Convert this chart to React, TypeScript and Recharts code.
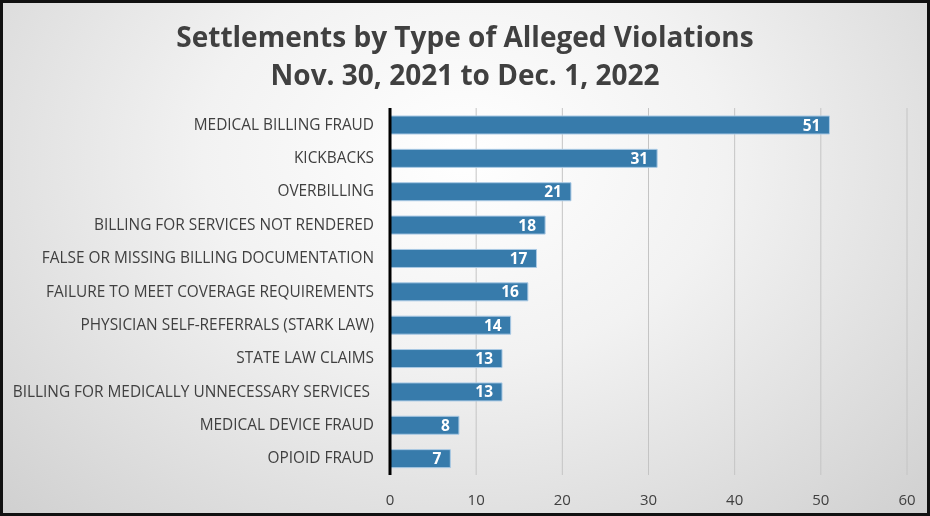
import { Bar, BarChart, CartesianGrid, LabelList, XAxis, YAxis } from 'recharts';

const categories = [
  'MEDICAL BILLING FRAUD',
  'KICKBACKS',
  'OVERBILLING',
  'BILLING FOR SERVICES NOT RENDERED',
  'FALSE OR MISSING BILLING DOCUMENTATION',
  'FAILURE TO MEET COVERAGE REQUIREMENTS',
  'PHYSICIAN SELF-REFERRALS (STARK LAW)',
  'STATE LAW CLAIMS',
  'BILLING FOR MEDICALLY UNNECESSARY SERVICES ',
  'MEDICAL DEVICE FRAUD',
  'OPIOID FRAUD',
];
const settlements = [51, 31, 21, 18, 17, 16, 14, 13, 13, 8, 7];
const xTicks = [0, 10, 20, 30, 40, 50, 60];

const data = categories.map((name, i) => ({ name, value: settlements[i] }));

const blue = '#377bab';
const textGray = '#404040';
const font = '"Open Sans", "Noto Sans", sans-serif';

// plain text tick so long names stay on one line
function CategoryTick(props: any) {
  const { x, y, payload } = props;
  return (
    <text x={x} y={y} dy={5} textAnchor="end" fill={textGray} fontSize={15.4} fontFamily={font} style={{ whiteSpace: 'pre' }}>
      {payload.value}
    </text>
  );
}

export default function App() {
  return (
    <div
      style={{
        position: 'fixed',
        left: 0,
        top: 0,
        width: 930,
        height: 516,
        boxSizing: 'border-box',
        border: '3px solid #111',
        background: 'radial-gradient(ellipse at 50% 30%, #ffffff 0%, #f2f2f2 40%, #d0d0d0 100%)',
        fontFamily: font,
        overflow: 'hidden',
      }}
    >
      <div
        style={{
          position: 'absolute',
          top: 14,
          left: 0,
          width: 924,
          textAlign: 'center',
          color: textGray,
          fontWeight: 700,
          fontSize: 28,
          lineHeight: '38px',
        }}
      >
        Settlements by Type of Alleged Violations
        <br />
        Nov. 30, 2021 to Dec. 1, 2022
      </div>
      <div style={{ position: 'absolute', left: -3, top: -3 }}>
        <BarChart
          width={930}
          height={516}
          data={data}
          layout="vertical"
          barSize={18}
          margin={{ top: 108, right: 23, bottom: 11, left: 0 }}
        >
          <CartesianGrid horizontal={false} stroke="#c4c4c4" strokeWidth={1} />
          <XAxis
            type="number"
            domain={[0, 60]}
            ticks={xTicks}
            height={30}
            axisLine={false}
            tickLine={false}
            tickSize={0}
            tickMargin={19}
            tick={{ fill: textGray, fontSize: 15, fontFamily: font }}
          />
          <YAxis
            type="category"
            dataKey="name"
            width={390}
            axisLine={{ stroke: '#000', strokeWidth: 3 }}
            tickLine={false}
            tickSize={0}
            tickMargin={16}
            interval={0}
            tick={<CategoryTick />}
          />
          <Bar dataKey="value" fill={blue} stroke="#a9c9e4" strokeWidth={1} isAnimationActive={false}>
            <LabelList
              dataKey="value"
              position="insideRight"
              offset={9}
              fill="#ffffff"
              fontWeight={700}
              fontSize={15.5}
              fontFamily={font}
            />
          </Bar>
        </BarChart>
      </div>
    </div>
  );
}
